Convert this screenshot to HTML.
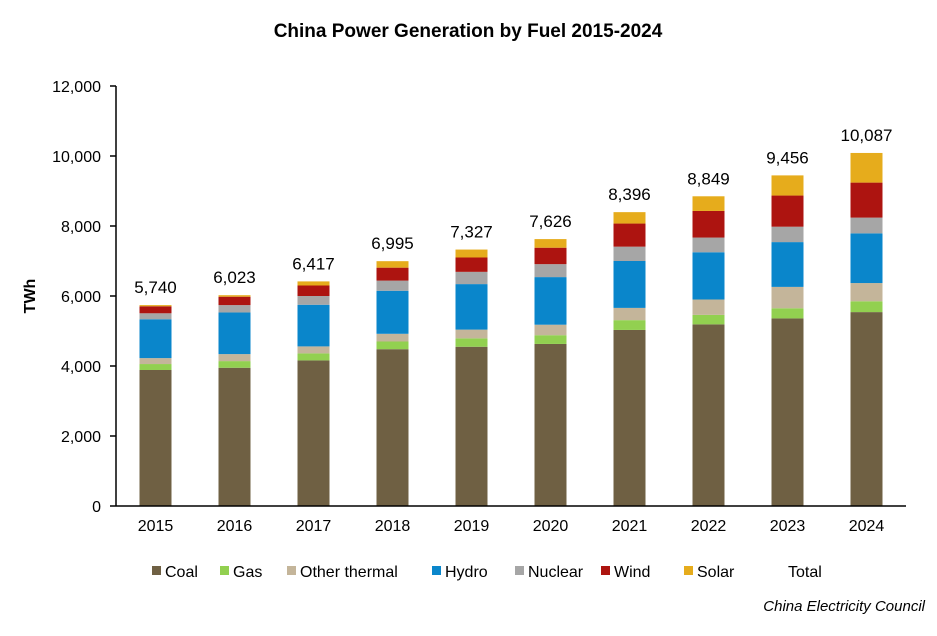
<!DOCTYPE html>
<html><head><meta charset="utf-8"><style>
body{margin:0;background:#fff;font-family:"Liberation Sans",Arial,sans-serif;}
</style></head><body>
<svg id="chart" width="937" height="631" xmlns="http://www.w3.org/2000/svg" font-family="Liberation Sans, Arial, sans-serif">
<text x="468" y="37" text-anchor="middle" font-size="19" font-weight="bold">China Power Generation by Fuel 2015-2024</text>
<text transform="translate(35,296) rotate(-90)" text-anchor="middle" font-size="16" font-weight="bold">TWh</text>
<g id="grid"></g><g id="bars"></g><g id="axes"></g><g id="legend"></g>
<text x="925" y="611" text-anchor="end" font-size="15" font-style="italic">China Electricity Council</text>
</svg>
<script>
const years=['2015','2016','2017','2018','2019','2020','2021','2022','2023','2024'];
const coal=[3886,3950,4160,4480,4550,4630,5030,5190,5360,5540];
const gas=[170,190,200,220,240,250,280,270,290,310];
const otherThermal=[170,200,200,220,250,300,350,440,610,520];
const hydro=[1110,1190,1190,1230,1300,1360,1340,1350,1280,1420];
const nuclear=[170,210,250,290,350,370,410,420,440,450];
const wind=[200,240,300,370,410,470,660,760,890,1000];
const solar=[34,43,117,185,227,246,326,419,576,847];
const totals=[5740,6023,6417,6995,7327,7626,8396,8849,9456,10087];
const yTicks=[0,2000,4000,6000,8000,10000,12000];
const seriesNames=['Coal','Gas','Other thermal','Hydro','Nuclear','Wind','Solar'];
const seriesColors=['#6f6043','#92d050','#c4b59a','#0a86cb','#a6a6a6','#ad1410','#e6ac1c'];
const series=[coal,gas,otherThermal,hydro,nuclear,wind,solar];

const NS='http://www.w3.org/2000/svg';
const x0=116,x1=906,y0=506,yMax=12000,yTop=86;
const band=(x1-x0)/years.length,bw=32;
const y=v=>y0-(v/yMax)*(y0-yTop);
const xc=i=>x0+band*(i+0.5);
function mk(t,a,p){const e=document.createElementNS(NS,t);for(const k in a)e.setAttribute(k,a[k]);p.appendChild(e);return e;}
const axes=document.getElementById('axes'),bars=document.getElementById('bars'),legend=document.getElementById('legend');
yTicks.forEach(v=>{
  const l=mk('line',{x1:x0-6,x2:x0,y1:y(v),y2:y(v),stroke:'#000','stroke-width':1.5},axes);
  
  
  const t=mk('text',{x:x0-15,y:y(v)+6,'text-anchor':'end','font-size':16},axes);
  t.textContent=v.toLocaleString('en-US');
  
  
});
const ya=mk('line',{x1:x0,x2:x0,y1:yTop,y2:y0,stroke:'#000','stroke-width':1.5},axes);


const xa=mk('line',{x1:x0,x2:x1,y1:y0,y2:y0,stroke:'#000','stroke-width':1.5},axes);


years.forEach((yr,i)=>{
  let cum=0;
  series.forEach((s,k)=>{
    const r=mk('rect',{x:xc(i)-bw/2,y:y(cum+s[i]),width:bw,height:y(cum)-y(cum+s[i]),fill:seriesColors[k]},bars);
    
    
    cum+=s[i];
  });
  const t=mk('text',{x:xc(i),y:y(cum)-12,'text-anchor':'middle','font-size':17},bars);
  t.textContent=totals[i].toLocaleString('en-US');
  
  
  const xl=mk('text',{x:xc(i),y:y0+25,'text-anchor':'middle','font-size':16},axes);
  xl.textContent=yr;
  
  
});
const lx=[152,220,287,432,515,601,684,775];
seriesNames.concat(['Total']).forEach((n,k)=>{
  const g=mk('g',{},legend);
  
  
  if(k<seriesColors.length) mk('rect',{x:lx[k],y:566,width:9,height:9,fill:seriesColors[k]},g);
  const t=mk('text',{x:lx[k]+13,y:577,'font-size':16},g);
  t.textContent=n;
});
</script>
</body></html>
